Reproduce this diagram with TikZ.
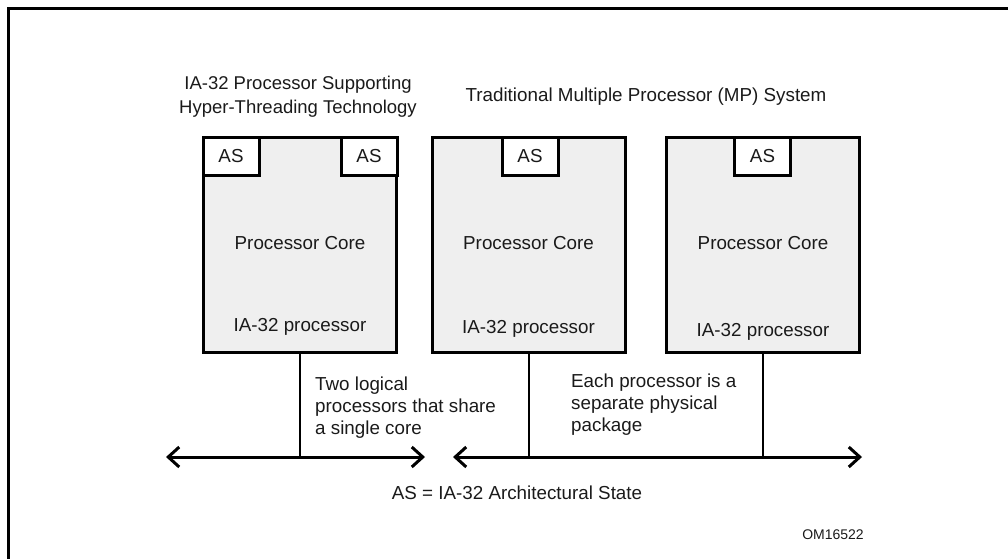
\documentclass[tikz,border=0pt]{standalone}
\usepackage{fontspec}
\setmainfont{Liberation Sans}
\usetikzlibrary{arrows.meta}
\definecolor{boxgray}{HTML}{EFEFEF}
\definecolor{txtcol}{HTML}{1A1A1A}
\tikzset{
  x=1pt, y=-1pt,
  txt/.style={font=\fontsize{18.8}{22}\selectfont, inner sep=0pt, text=txtcol},
  procbox/.style={draw, line width=3pt, fill=boxgray, minimum width=193pt, minimum height=215pt, inner sep=0pt},
  asbox/.style={draw, line width=3pt, fill=white, minimum width=56pt, minimum height=38pt, inner sep=0pt, text=txtcol, font=\fontsize{18.8}{22}\selectfont},
  link/.style={line width=2.2pt},
  bus/.style={line width=3pt, {Straight Barb[length=11pt,width=20pt]}-{Straight Barb[length=11pt,width=20pt]}},
  frame/.style={line width=3.5pt}
}
\begin{document}
\begin{tikzpicture}
\useasboundingbox (0,0) rectangle (1008,558);
% frame
\coordinate (f1) at (8.5,560);
\coordinate (f2) at (8.5,8.5);
\coordinate (f3) at (1010,8.5);
\draw[frame] (f1) -- (f2) -- (f3);

% titles
\node[txt, align=center, font=\fontsize{18.5}{24}\selectfont] (t1) at (298,96.5) {IA-32 Processor Supporting\\Hyper-Threading Technology};
\node[txt] (t2) at (646,97) {Traditional Multiple Processor (MP) System};

% processor boxes
\node[procbox] (p1) at (300,244.5) {};
\node[procbox] (p2) at (528.5,244.5) {};
\node[procbox] (p3) at (763,244.5) {};

% AS boxes
\node[asbox] (as1a) at (231,156) {AS};
\node[asbox] (as1b) at (369,156) {AS};
\node[asbox] (as2) at (530,156.5) {AS};
\node[asbox] (as3) at (762.5,156.5) {AS};

% inner labels
\node[txt] (c1) at (300,243) {Processor Core};
\node[txt] (c2) at (528.5,243) {Processor Core};
\node[txt] (c3) at (763,243) {Processor Core};
\node[txt] (i1) at (300,327) {IA-32 processor};
\node[txt] (i2) at (528.5,329) {IA-32 processor};
\node[txt] (i3) at (763,332) {IA-32 processor};

% bus coordinates
\coordinate (b1) at (300,457);
\coordinate (b2) at (529,457);
\coordinate (b3) at (763,457);
\coordinate (bl1) at (166,457);
\coordinate (br1) at (425,457);
\coordinate (bl2) at (453,457);
\coordinate (br2) at (862,457);

\draw[link] (p1.south) -- (b1);
\draw[link] (p2.south -| b2) -- (b2);
\draw[link] (p3.south) -- (b3);
\draw[bus] (bl1) -- (br1);
\draw[bus] (bl2) -- (br2);

% annotations
\node[txt, align=left, anchor=north west] (n1) at (315,377) {Two logical\\processors that share\\a single core};
\node[txt, align=left, anchor=north west] (n2) at (571,374) {Each processor is a\\separate physical\\package};

\node[txt] (leg) at (517,493) {AS = IA-32 Architectural State};
\node[font=\fontsize{14}{16}\selectfont, inner sep=0pt, text=txtcol] (om) at (833,535) {OM16522};
\end{tikzpicture}
\end{document}
